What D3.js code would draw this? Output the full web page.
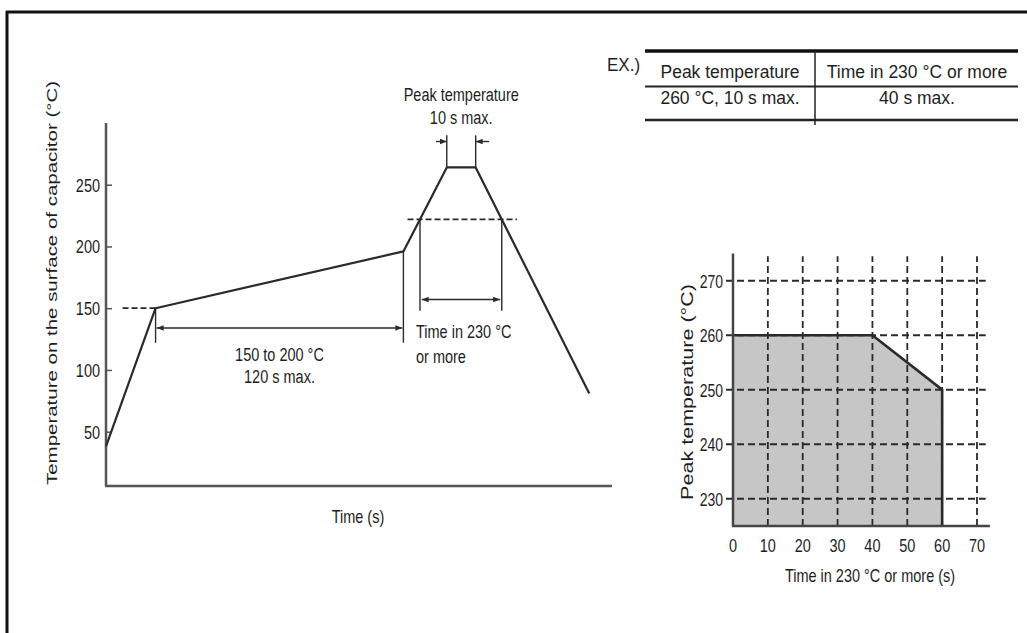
<!DOCTYPE html>
<html><head><meta charset="utf-8">
<script src="https://cdn.jsdelivr.net/npm/d3@7/dist/d3.min.js"></script>
<style>
html,body{margin:0;padding:0;background:#fff;}
svg text{font-family:"Liberation Sans",Arial,sans-serif;fill:#1e1e1e;}
</style></head>
<body><svg id="c" width="1027" height="633"></svg>
<script>
// ---------- Data: reflow profile (left chart) ----------
const profileTime = [0, 24, 144, 165, 179, 234];      // s
const profileTemp = [38, 150, 196, 264, 264, 81];     // °C
const leftTicks = [50, 100, 150, 200, 250];
const preheatTemp = 150, preheatDashFrom = 8;
const limitTemp = 222, limitDashFrom = 146, limitDashTo = 199; // "230 °C" level as drawn
// ---------- Data: table ----------
const tableHeader = ["Peak temperature", "Time in 230 °C or more"];
const tableRow = ["260 °C, 10 s max.", "40 s max."];
// ---------- Data: peak temperature vs time (right chart) ----------
const limitTime = [0, 0, 40, 60, 60];
const limitPeak = [225, 260, 260, 250, 225];
const rightXTicks = [0, 10, 20, 30, 40, 50, 60, 70];
const rightYTicks = [230, 240, 250, 260, 270];

const svg = d3.select("#c");
const ink = "#2a2a2a";
const SY = 1.3; // tall, narrow lettering of the original

function txt(g, x, y, s, size, anchor, sy){
  return g.append("text").attr("transform",`translate(${x},${y}) scale(1,${sy||SY})`)
    .attr("text-anchor",anchor||"start").attr("font-size",size).text(s);
}

// frame
svg.append("line").attr("x1",6).attr("x2",1027).attr("y1",12).attr("y2",12).attr("stroke","#111").attr("stroke-width",3);
svg.append("line").attr("x1",7).attr("x2",7).attr("y1",11).attr("y2",633).attr("stroke","#111").attr("stroke-width",3);

// arrow marker
const defs = svg.append("defs");
defs.append("marker").attr("id","ah").attr("viewBox","0 0 10 10").attr("refX",10).attr("refY",5)
  .attr("markerWidth",7).attr("markerHeight",7).attr("markerUnits","userSpaceOnUse").attr("orient","auto-start-reverse")
  .append("path").attr("d","M0,1 L10,5 L0,9 Z").attr("fill",ink);

// ================= LEFT CHART =================
const x = d3.scaleLinear().domain([0, 245]).range([106, 612]);
const y = d3.scaleLinear().domain([6, 300]).range([486, 123]);
const L = svg.append("g");

L.append("line").attr("x1",x(0)).attr("x2",x(0)).attr("y1",y(300)).attr("y2",y(6)).attr("stroke","#555").attr("stroke-width",2.5);
L.append("line").attr("x1",x(0)-1).attr("x2",x(245)).attr("y1",y(6)).attr("y2",y(6)).attr("stroke","#555").attr("stroke-width",2.5);
const yAx = d3.axisRight(y).tickValues(leftTicks).tickSize(6).tickFormat("");
const yg = L.append("g").attr("transform",`translate(${x(0)},0)`).call(yAx);
yg.select(".domain").remove();
yg.selectAll("line").attr("stroke","#555").attr("stroke-width",1.5);
leftTicks.forEach(d=>txt(L, x(0)-6, y(d)+7, d, 14.5, "end"));

// dashed references
L.append("line").attr("x1",x(preheatDashFrom)).attr("x2",x(profileTime[1])).attr("y1",y(preheatTemp)).attr("y2",y(preheatTemp))
  .attr("stroke",ink).attr("stroke-width",1.8).attr("stroke-dasharray","6,3");
L.append("line").attr("x1",x(limitDashFrom)).attr("x2",x(limitDashTo)).attr("y1",y(limitTemp)).attr("y2",y(limitTemp))
  .attr("stroke",ink).attr("stroke-width",1.8).attr("stroke-dasharray","6,3");

// profile line
const pts = profileTime.map((t,i)=>[t, profileTemp[i]]);
L.append("path").datum(pts).attr("d", d3.line().x(d=>x(d[0])).y(d=>y(d[1])))
  .attr("fill","none").attr("stroke",ink).attr("stroke-width",2.2).attr("stroke-linejoin","round");

function cross(a,b,T){ return a[0] + (b[0]-a[0])*(T-a[1])/(b[1]-a[1]); }
const tUp = cross(pts[2],pts[3],limitTemp), tDown = cross(pts[4],pts[5],limitTemp);

function vline(t, T1, T2, w){ L.append("line").attr("x1",x(t)).attr("x2",x(t)).attr("y1",y(T1)).attr("y2",y(T2)).attr("stroke",ink).attr("stroke-width",w||1.4); }
function harrow(t1,t2,T,both){ const l=L.append("line").attr("x1",x(t1)).attr("x2",x(t2)).attr("y1",y(T)).attr("y2",y(T)).attr("stroke",ink).attr("stroke-width",1.4).attr("marker-end","url(#ah)"); if(both) l.attr("marker-start","url(#ah)"); return l; }

// preheat span annotation
vline(profileTime[1], preheatTemp, 122);
vline(profileTime[2], profileTemp[2], 122);
harrow(profileTime[1]+0.5, profileTime[2]-0.5, 134, true);
const midPre = (x(profileTime[1])+x(profileTime[2]))/2;
txt(L, midPre, 361, "150 to 200 °C", 14.5, "middle");
txt(L, midPre, 383, "120 s max.", 14.5, "middle");

// time above limit
vline(tUp, limitTemp, 148);
vline(tDown, limitTemp, 148);
harrow(tUp+0.8, tDown-0.8, 157, true);
txt(L, x(tUp)-4, 338, "Time in 230 °C", 14.5);
txt(L, x(tUp)-4, 363, "or more", 14.5);

// peak annotation
vline(profileTime[3], 290, profileTemp[3]);
vline(profileTime[4], 290, profileTemp[4]);
harrow(159.8, profileTime[3], 285, false);
harrow(185.5, profileTime[4], 285, false);
const midPk = (x(profileTime[3])+x(profileTime[4]))/2;
txt(L, midPk, 101, "Peak temperature", 14.5, "middle");
txt(L, midPk, 124, "10 s max.", 14.5, "middle");

// axis titles
txt(L, x(122), 523, "Time (s)", 14.5, "middle");
L.append("text").attr("transform","translate(57,283) rotate(-90)").attr("text-anchor","middle").attr("font-size",15.5)
  .attr("textLength",404).attr("lengthAdjust","spacingAndGlyphs").text("Temperature on the surface of capacitor (°C)");

// ================= TABLE =================
const T = svg.append("g");
const colX = [645, 815, 1018];
txt(T, 607, 71, "EX.)", 17, "start", 1.1);
T.append("line").attr("x1",colX[0]).attr("x2",colX[2]).attr("y1",51).attr("y2",51).attr("stroke","#111").attr("stroke-width",3.5);
T.append("line").attr("x1",colX[0]).attr("x2",colX[2]).attr("y1",86.5).attr("y2",86.5).attr("stroke","#222").attr("stroke-width",2);
T.append("line").attr("x1",colX[0]).attr("x2",colX[2]).attr("y1",120).attr("y2",120).attr("stroke","#222").attr("stroke-width",2.5);
T.append("line").attr("x1",colX[1]).attr("x2",colX[1]).attr("y1",51).attr("y2",125).attr("stroke","#222").attr("stroke-width",1.5);
const cx = [730, 917];
tableHeader.forEach((d,i)=>txt(T, cx[i], 78, d, 17.5, "middle", 1.08));
tableRow.forEach((d,i)=>txt(T, cx[i], 104, d, 17.5, "middle", 1.08));

// ================= RIGHT CHART =================
const rx = d3.scaleLinear().domain([0, 70]).range([733, 977]);
const ry = d3.scaleLinear().domain([225, 275]).range([526, 253.5]);
const R = svg.append("g");

R.append("path").datum(limitTime.map((t,i)=>[t, limitPeak[i]]))
  .attr("d", d3.line().x(d=>rx(d[0])).y(d=>ry(d[1])))
  .attr("fill","#c6c6c6").attr("stroke","none");

R.selectAll("line.gh").data(rightYTicks).join("line").attr("class","gh")
  .attr("x1",rx(0)-7).attr("x2",rx(72.5)).attr("y1",d=>ry(d)).attr("y2",d=>ry(d))
  .attr("stroke",ink).attr("stroke-width",1.8).attr("stroke-dasharray","7,4");
R.selectAll("line.gv").data(rightXTicks.filter(d=>d>0)).join("line").attr("class","gv")
  .attr("x1",d=>rx(d)).attr("x2",d=>rx(d)).attr("y1",ry(225)).attr("y2",ry(274.5))
  .attr("stroke",ink).attr("stroke-width",1.8).attr("stroke-dasharray","7,4");

R.append("path").datum(limitTime.slice(1).map((t,i)=>[t, limitPeak[i+1]]))
  .attr("d", d3.line().x(d=>rx(d[0])).y(d=>ry(d[1])))
  .attr("fill","none").attr("stroke",ink).attr("stroke-width",2.6);

R.append("line").attr("x1",rx(0)).attr("x2",rx(0)).attr("y1",ry(275)).attr("y2",ry(225)).attr("stroke","#444").attr("stroke-width",2.5);
R.append("line").attr("x1",rx(0)-1).attr("x2",rx(73.7)).attr("y1",ry(225)).attr("y2",ry(225)).attr("stroke","#444").attr("stroke-width",2.5);

rightXTicks.forEach(d=>txt(R, rx(d), 552, d, 14.5, "middle"));
rightYTicks.forEach(d=>txt(R, 723, ry(d)+7, d, 14, "end"));

txt(R, 870, 582, "Time in 230 °C or more (s)", 14.5, "middle");
R.append("text").attr("transform","translate(693,392) rotate(-90)").attr("text-anchor","middle").attr("font-size",16)
  .attr("textLength",216).attr("lengthAdjust","spacingAndGlyphs").text("Peak temperature (°C)");
</script></body></html>
